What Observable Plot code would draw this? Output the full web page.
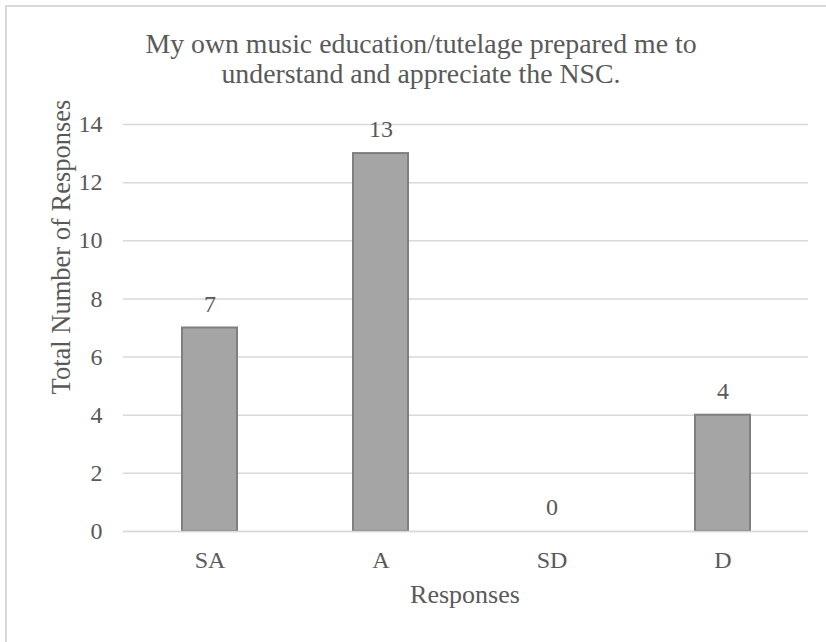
<!DOCTYPE html>
<html>
<head>
<meta charset="utf-8">
<script src="https://cdn.jsdelivr.net/npm/d3@7"></script>
<script src="https://cdn.jsdelivr.net/npm/@observablehq/plot@0.6"></script>
<style>
  html, body { margin: 0; padding: 0; background: #fff; overflow: hidden; }
  #chart { position: relative; width: 826px; height: 642px; font-family: "Liberation Serif", "Times New Roman", serif; color: #595959; }
  #frame { position: absolute; left: 5px; top: 5px; width: 900px; height: 700px; border: 2px solid #d9d9d9; box-sizing: border-box; }
  #title { position: absolute; left: 121px; width: 600px; top: 28.6px; text-align: center; font-size: 27.8px; line-height: 30px; white-space: nowrap; }
  #ytitle { position: absolute; left: 61px; top: 247px; transform: translate(-50%, -50%) rotate(-90deg); white-space: nowrap; font-size: 26.5px; }
  #xtitle { position: absolute; left: 465px; top: 595px; transform: translate(-50%, -50%); white-space: nowrap; font-size: 26px; }
  #chart svg { position: absolute; left: 0; top: 0; }
</style>
</head>
<body>
<div id="chart">
  <div id="frame"></div>
  <div id="title">My own music education/tutelage prepared me to<br>understand and appreciate the NSC.</div>
  <div id="ytitle">Total Number of Responses</div>
  <div id="xtitle">Responses</div>
</div>
<script>
// Survey responses by agreement level
const categories = ["SA", "A", "SD", "D"];
const counts = [7, 13, 0, 4];
const yTicks = [0, 2, 4, 6, 8, 10, 12, 14];

const rows = categories.map((c, i) => ({response: c, count: counts[i]}));

const font = "'Liberation Serif', 'Times New Roman', serif";

const plot = Plot.plot({
  width: 826,
  height: 642,
  marginLeft: 123,
  marginRight: 18,
  marginTop: 124,
  marginBottom: 111,
  style: {fontFamily: font, color: "#595959", background: "transparent", overflow: "visible"},
  x: {domain: categories, paddingInner: 0.68, paddingOuter: 0.34},
  y: {domain: [0, 14]},
  marks: [
    Plot.ruleY(yTicks, {stroke: "#d9d9d9", strokeWidth: 1.5}),
    Plot.barY(rows, {x: "response", y: "count", fill: "#a5a5a5", stroke: "#7f7f7f", strokeWidth: 2}),
    Plot.ruleY([0], {stroke: "#d9d9d9", strokeWidth: 1.5}),
    Plot.text(rows, {x: "response", y: "count", text: d => String(d.count), dy: -24, fontSize: 24, fill: "#595959"}),
    Plot.axisY({ticks: yTicks, tickSize: 0, tickPadding: 21, fontSize: 24, label: null, fill: "#595959"}),
    Plot.axisX({tickSize: 0, tickPadding: 19, fontSize: 24, label: null, fill: "#595959"})
  ]
});

document.getElementById("chart").appendChild(plot);
</script>
</body>
</html>
